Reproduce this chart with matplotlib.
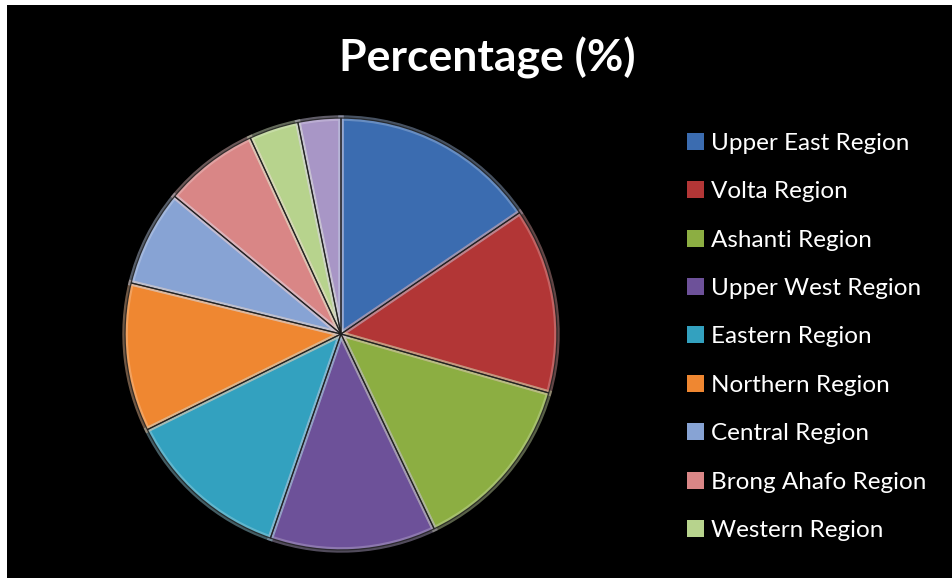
import matplotlib
matplotlib.use("Agg")
import matplotlib.pyplot as plt
from matplotlib.patches import Rectangle
from matplotlib.colors import to_rgb

# slice values (percent), clockwise from 12 o'clock
regions = ["Upper East Region", "Volta Region", "Ashanti Region", "Upper West Region",
           "Eastern Region", "Northern Region", "Central Region", "Brong Ahafo Region",
           "Western Region", "Greater Accra Region"]
percent = [15.5, 13.9, 13.5, 12.4, 12.4, 11.1, 7.2, 7.1, 3.7, 3.2]
colors = ["#3b6cb0", "#b23636", "#8cae42", "#6d5199", "#33a1bf", "#ef8731",
          "#87a3d4", "#d98686", "#b7d38d", "#a896c6"]
shown_in_legend = 9  # the last slice has no legend entry in the original

W, H = 952, 578
fig = plt.figure(figsize=(W / 100, H / 100), dpi=100, facecolor="white")
fig.patches.append(Rectangle((7 / W, 0), 1, 1 - 5 / H, transform=fig.transFigure,
                             facecolor="black", edgecolor="none", zorder=-1))

cx, cy, r = 341, 334, 217
ax = fig.add_axes([(cx - r) / W, (H - cy - r) / H, 2 * r / W, 2 * r / H])
ax.set_facecolor("none")

wedges, _ = ax.pie(percent, colors=colors, startangle=90, counterclock=False,
                   wedgeprops=dict(edgecolor="none"))

# fake bevel: light rim kept inside each slice, then a dark seam between slices
rims, _ = ax.pie(percent, colors=colors, startangle=90, counterclock=False)
for rim, w, c in zip(rims, wedges, colors):
    light = tuple(min(1, v * 0.5 + 0.5) for v in to_rgb(c))
    rim.set_facecolor("none")
    rim.set_edgecolor(light + (0.45,))
    rim.set_linewidth(4)
    rim.set_clip_path(w)
seams, _ = ax.pie(percent, startangle=90, counterclock=False,
                  wedgeprops=dict(edgecolor=(0.12, 0.12, 0.12, 0.85), linewidth=0.9))
for s in seams:
    s.set_facecolor("none")

ax.set_xlim(-1.005, 1.005)
ax.set_ylim(-1.005, 1.005)
ax.set_aspect("equal")
ax.axis("off")

fig.text(487 / W, 1 - 58 / H, "Percentage (%)", ha="center", va="center",
         color="white", fontsize=32, fontweight="bold", family="Lato")

leg = fig.legend(wedges[:shown_in_legend], regions[:shown_in_legend],
                 loc="upper left", bbox_to_anchor=(687 / W, 1 - 133 / H),
                 frameon=False, prop=dict(family="Lato", size=17.5),
                 labelcolor="white", handlelength=0.7, handleheight=0.7,
                 handletextpad=0.3, labelspacing=1.125, borderpad=0, borderaxespad=0)

fig.savefig("out.png", dpi=100, facecolor=fig.get_facecolor())
